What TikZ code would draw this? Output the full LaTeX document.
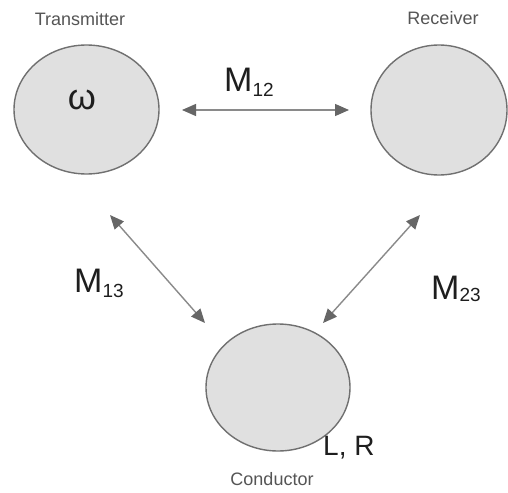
\documentclass[tikz,border=0pt]{standalone}
\usepackage{fontspec}
\setmainfont{Liberation Sans}
\usetikzlibrary{arrows.meta,shapes.geometric}
\definecolor{fillgray}{HTML}{E0E0E0}
\definecolor{edgegray}{HTML}{707070}
\definecolor{arrowgray}{HTML}{8A8A8A}
\definecolor{headgray}{HTML}{666666}
\definecolor{labelgray}{HTML}{555555}
\definecolor{textdark}{HTML}{1E1E1E}
\begin{document}
\begin{tikzpicture}[x=1pt,y=-1pt,
  coil/.style={ellipse,draw=edgegray,fill=fillgray,line width=1.4pt,inner sep=0pt,outer sep=0pt},
  coilname/.style={text=labelgray,font=\fontsize{18}{18}\selectfont,anchor=base,inner sep=0pt},
  mlabel/.style={text=textdark,font=\fontsize{34}{34}\selectfont,anchor=base west,inner sep=0pt},
  coupling/.style={draw=arrowgray,line width=1.4pt,
    {Triangle[length=14pt,width=12pt,color=headgray]}-{Triangle[length=14pt,width=12pt,color=headgray]}}
]
\useasboundingbox (0,0) rectangle (508,492);
\path[fill=white] (0,0) rectangle (508,492);
% coils
\node[coil,minimum width=145pt,minimum height=129pt] (tx) at (86.5,109.5) {};
\node[coil,minimum width=136pt,minimum height=130pt] (rx) at (439,110) {};
\node[coil,minimum width=144pt,minimum height=127pt] (cd) at (278,387.5) {};
% names
\node[coilname] (txname) at (80,26) {Transmitter};
\node[coilname] (rxname) at (443,25) {Receiver};
\node[coilname] (cdname) at (272,485) {Conductor};
\node[text=textdark,font=\fontsize{36}{36}\selectfont,inner sep=0pt] (omega) at (82,100) {ω};
\node[text=textdark,font=\fontsize{28}{28}\selectfont,anchor=base west,inner sep=0pt] (lr) at (323,455) {L, R};
% arrow ends
\coordinate (a12l) at (182,110);
\coordinate (a12r) at (349,110);
\coordinate (a13t) at (110,215);
\coordinate (a13b) at (205,323);
\coordinate (a23t) at (420,215);
\coordinate (a23b) at (323,323);
\draw[coupling] (a12l) -- (a12r);
\draw[coupling] (a13t) -- (a13b);
\draw[coupling] (a23t) -- (a23b);
% coupling labels
\node[mlabel] (m12) at (224,92) {M\raisebox{-5pt}{\fontsize{19}{19}\selectfont 12}};
\node[mlabel] (m13) at (74,292) {M\raisebox{-5pt}{\fontsize{19}{19}\selectfont 13}};
\node[mlabel] (m23) at (431,299) {M\raisebox{-2pt}{\fontsize{19}{19}\selectfont 23}};
\end{tikzpicture}
\end{document}
